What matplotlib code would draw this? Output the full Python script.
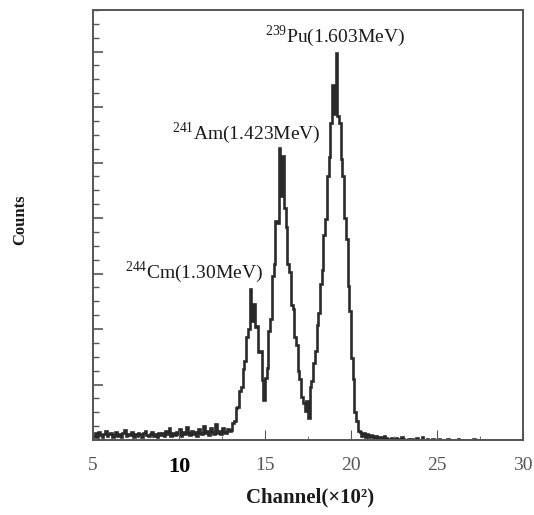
import numpy as np
import matplotlib
matplotlib.use('Agg')
import matplotlib.pyplot as plt

plt.rcParams['font.family'] = ['Liberation Serif', 'DejaVu Serif']
plt.rcParams['mathtext.fontset'] = 'custom'
plt.rcParams['mathtext.rm'] = 'Liberation Serif'

# spectrum, counts per 0.1 (x10^2) channel bin
baseline_low = [8, 12, 6, 14, 9, 5, 11, 16, 7, 10, 13, 6, 9, 15, 8, 11, 5, 12, 18, 7,
                10, 9, 14, 6, 11, 8, 13, 10, 5, 12, 17, 9, 7, 11, 14, 8, 10, 6, 13, 9]      # 5.0 - 9.0
baseline_high = [12, 7, 16, 10, 22, 8, 13, 9, 15, 11, 19, 7, 14, 10, 24, 12, 9, 17, 11, 14,
                 8, 20, 13, 10, 26, 12, 16, 9, 21, 14, 11, 28, 13, 17, 10, 22, 15, 12, 19, 16]  # 9.0 - 13.0
peaks = [18, 30, 34, 58, 60, 88, 96, 128, 142, 186,           # 13.0
         200, 272, 214, 246, 204, 206, 158, 160, 108, 72,     # 14.0  Cm
         112, 130, 196, 218, 296, 318, 394, 392, 526, 440,    # 15.0  Am
         512, 418, 384, 318, 302, 244, 236, 186, 172, 124,    # 16.0
         110, 78, 66, 52, 70, 40, 96, 106, 138, 160,          # 17.0
         208, 228, 282, 306, 370, 398, 476, 510, 572, 640,    # 18.0  Pu
         588, 697, 584, 572, 506, 476, 400, 362, 278, 232,    # 19.0
         148, 110, 50, 34, 16]                                # 20.0 - 20.5
tail = [14, 8, 12, 6, 10, 5, 9, 7, 4, 8, 3, 6, 5, 2, 7,       # 20.5 - 22.0
        3, 0, 2, 4, 1, 0, 3, 0, 2, 6, 1, 0, 0, 2, 0,
        1, 0, 0, 3, 0, 0, 5, 0, 0, 1, 0, 0, 2, 0, 0,          # 22.0 - 25.0
        0, 1, 0, 0, 0, 0, 2, 0, 0, 0, 0, 0, 1, 0, 0, 0, 0, 0, 0, 0, 0, 1, 0, 0, 0,
        0, 0, 0, 0, 0, 0, 0, 0, 0, 0, 0, 0, 0, 0, 0, 0, 0, 0, 0, 0, 0, 0, 0, 0, 0]  # 25.0 - 30.0

counts = np.array(baseline_low + baseline_high + peaks + tail)
edges = np.round(np.linspace(5.0, 30.0, len(counts) + 1), 2)

peak_labels = [r'$^{\mathrm{244}}$Cm(1.30MeV)', r'$^{\mathrm{241}}$Am(1.423MeV)', r'$^{\mathrm{239}}$Pu(1.603MeV)']
label_x = [6.85, 9.6, 15.0]
label_y = [303, 553, 728]

xticks = [5, 10, 15, 20, 25, 30]

fig = plt.figure(figsize=(5.34, 5.15), dpi=100)
ax = fig.add_axes([93/534, 1 - 440/515, 430/534, 430/515])

ax.stairs(counts, edges, color='#2a2a2a', lw=1.9)

for txt, x, y in zip(peak_labels, label_x, label_y):
    ax.text(x, y, txt, fontsize=14, color='#1a1a1a', va='center', ha='left')

ax.set_xlim(5, 30)
ax.set_ylim(0, 775)
ax.set_xticks(xticks)
ax.set_xticks(np.arange(5, 30.1, 2.5), minor=True)
ax.set_yticks(np.arange(0, 776, 100))
ax.set_yticks(np.arange(0, 776, 25), minor=True)
ax.set_yticklabels([])
ax.tick_params(axis='x', which='both', direction='in', top=False, pad=12, labelsize=14, colors='#555555')
ax.tick_params(axis='x', which='major', length=7)
ax.tick_params(axis='x', which='minor', length=3)
ax.tick_params(axis='y', which='both', direction='in', right=False, colors='#555555')
ax.tick_params(axis='y', which='major', length=7, width=1.2)
ax.tick_params(axis='y', which='minor', length=4, width=1.0)
for lab in ax.get_xticklabels():
    if lab.get_text() == '10':
        lab.set_color('black')
        lab.set_fontweight('bold')
        lab.set_fontsize(16)

for sp in ax.spines.values():
    sp.set_color('#555555')
    sp.set_linewidth(1.4)

fig.text(310/534, 1 - 497/515, 'Channel(×10²)', fontsize=15, fontweight='bold',
         ha='center', va='center', color='#1a1a1a')
fig.text(20/534, 1 - 220/515, 'Counts', fontsize=12, fontweight='bold', rotation=90,
         ha='center', va='center', color='#1a1a1a')

fig.savefig('out.png', dpi=100)
